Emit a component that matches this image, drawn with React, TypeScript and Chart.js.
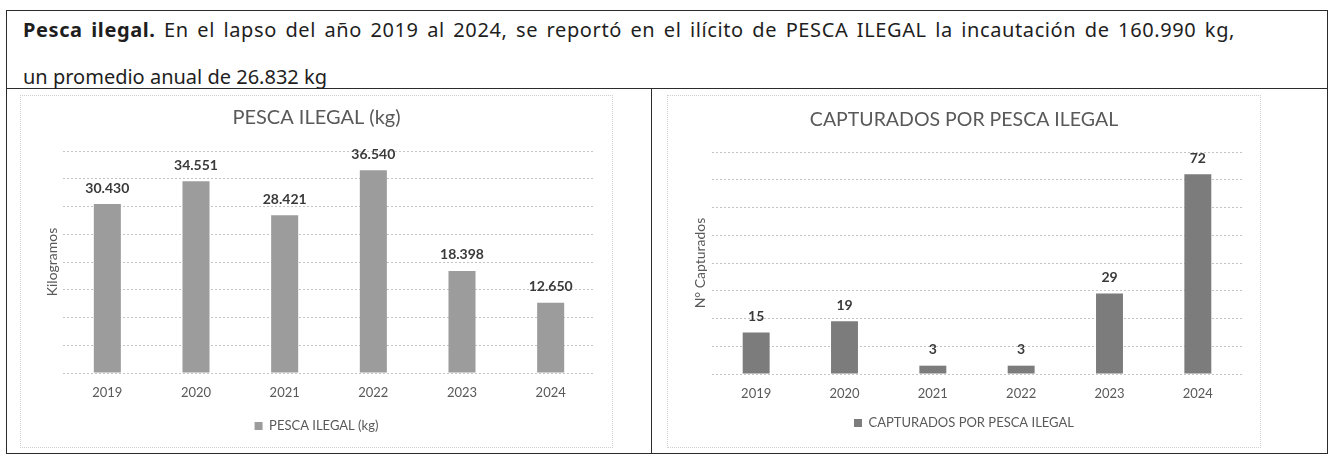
import React, { useEffect, useRef } from 'react';
import { Chart, registerables } from 'chart.js';

Chart.register(...registerables);

const years = ['2019', '2020', '2021', '2022', '2023', '2024'];
const pescaKg = [30430, 34551, 28421, 36540, 18398, 12650];
const capturados = [15, 19, 3, 3, 29, 72];
const kgAxis = [0, 40000, 5000];
const capAxis = [0, 80, 10];

const FONT = 'Lato, "Noto Sans", sans-serif';

function fmt(n: number): string {
  return String(n).replace(/\B(?=(\d{3})+(?!\d))/g, '.');
}

const valueLabels = {
  id: 'valueLabels',
  afterDatasetsDraw(chart: any) {
    const ctx = chart.ctx;
    const meta = chart.getDatasetMeta(0);
    const ds = chart.data.datasets[0];
    ctx.save();
    ctx.font = 'bold 14px ' + FONT;
    ctx.fillStyle = '#3a3a3a';
    ctx.textAlign = 'center';
    ctx.textBaseline = 'middle';
    meta.data.forEach((bar: any, i: number) => {
      ctx.fillText(fmt(ds.data[i] as number), bar.x, bar.y - 16);
    });
    ctx.restore();
  },
};

type Geo = {
  W: number;
  H: number;
  titleCY: number;
  titleSize: number;
  plotTop: number;
  plotBottom: number;
  plotLeft: number;
  plotRight: number;
  tickCY: number;
  legendCY: number;
  yTitleCX: number;
};

function buildConfig(
  title: string,
  data: number[],
  color: string,
  axis: number[],
  yTitle: string,
  g: Geo
): any {
  const titleFont = g.titleSize;
  const titleLH = titleFont * 1.2;
  const legendFont = 13;
  const legendPad = 10;
  const legendH = legendFont + legendPad + 10;
  const padBottom = g.H - g.legendCY - 16.5;
  const legendTop = g.H - padBottom - legendH;
  const xAxisH = legendTop - g.plotBottom;
  const tickFont = 13;
  const yTitleFont = 14;
  return {
    type: 'bar',
    data: {
      labels: years,
      datasets: [
        {
          label: title,
          data,
          backgroundColor: color,
          borderWidth: 0,
          barPercentage: 0.305,
          categoryPercentage: 1,
          yAxisID: 'y',
        },
      ],
    },
    options: {
      responsive: false,
      animation: false,
      devicePixelRatio: 1,
      layout: {
        padding: { left: 0, right: 0, top: 0, bottom: padBottom },
      },
      plugins: {
        title: {
          display: true,
          text: title,
          color: '#595959',
          font: { family: FONT, size: titleFont, weight: 'normal' },
          padding: {
            top: g.titleCY - titleLH / 2,
            bottom: g.plotTop - g.titleCY - titleLH / 2,
          },
        },
        legend: {
          display: true,
          position: 'bottom',
          labels: {
            color: '#595959',
            font: { family: FONT, size: legendFont },
            boxWidth: 8,
            boxHeight: 8,
            padding: legendPad,
          },
        },
        tooltip: { enabled: false },
      },
      scales: {
        x: {
          grid: { display: false, drawTicks: false },
          border: { display: false },
          ticks: {
            color: '#595959',
            font: { family: FONT, size: tickFont },
            padding: g.tickCY - g.plotBottom - (tickFont * 1.2) / 2,
          },
          afterFit: (s: any) => {
            s.height = xAxisH;
          },
        },
        y: {
          position: 'left',
          min: axis[0],
          max: axis[1],
          ticks: { display: false, stepSize: axis[2] },
          grid: { color: '#c4c4c4', lineWidth: 1, drawTicks: false },
          border: { display: false, dash: [2, 2] },
          title: {
            display: true,
            text: yTitle,
            color: '#595959',
            font: { family: FONT, size: yTitleFont },
            padding: { top: g.yTitleCX - (yTitleFont * 1.2) / 2, bottom: 0 },
          },
          afterFit: (s: any) => {
            s.width = g.plotLeft;
          },
        },
        yRight: {
          type: 'linear',
          position: 'right',
          display: true,
          ticks: { display: false },
          grid: { display: false, drawTicks: false },
          border: { display: false },
          afterFit: (s: any) => {
            s.width = g.W - g.plotRight;
          },
        },
      },
    },
    plugins: [valueLabels],
  };
}

function BarChart(props: {
  left: number;
  top: number;
  title: string;
  data: number[];
  color: string;
  axis: number[];
  yTitle: string;
  geo: Geo;
}) {
  const ref = useRef<HTMLCanvasElement | null>(null);
  useEffect(() => {
    if (!ref.current) return;
    const chart = new Chart(
      ref.current,
      buildConfig(props.title, props.data, props.color, props.axis, props.yTitle, props.geo)
    );
    return () => chart.destroy();
  }, []);
  const { W, H } = props.geo;
  return (
    <>
      <canvas
        ref={ref}
        width={W}
        height={H}
        style={{ position: 'absolute', left: props.left, top: props.top, width: W, height: H }}
      />
      <div
        style={{
          position: 'absolute',
          left: props.left,
          top: props.top,
          width: W,
          height: H,
          border: '1px dotted #cfcfcf',
          boxSizing: 'border-box',
          pointerEvents: 'none',
        }}
      />
    </>
  );
}

const leftGeo: Geo = {
  W: 593,
  H: 353,
  titleCY: 23,
  titleSize: 20,
  plotTop: 56,
  plotBottom: 278,
  plotLeft: 43,
  plotRight: 575,
  tickCY: 298,
  legendCY: 331,
  yTitleCX: 32,
};

const rightGeo: Geo = {
  W: 594,
  H: 353,
  titleCY: 25,
  titleSize: 19.5,
  plotTop: 57,
  plotBottom: 279,
  plotLeft: 45,
  plotRight: 575,
  tickCY: 299,
  legendCY: 328,
  yTitleCX: 33,
};

export default function App() {
  const line = '1.5px solid #2b2b2b';
  const headStyle: React.CSSProperties = {
    position: 'absolute',
    left: 23,
    width: 1212,
    fontFamily: '"Noto Sans", Lato, sans-serif',
    fontSize: 20,
    lineHeight: '30px',
    color: '#1e1e1e',
  };
  return (
    <div
      style={{
        position: 'absolute',
        left: 0,
        top: 0,
        width: 1335,
        height: 458,
        background: '#ffffff',
        fontFamily: FONT,
        overflow: 'hidden',
      }}
    >
      <div
        style={{
          position: 'absolute',
          left: 6,
          top: 10,
          width: 1322,
          height: 444,
          border: line,
          boxSizing: 'border-box',
        }}
      />
      <div style={{ position: 'absolute', left: 6, top: 88, width: 1322, height: 0, borderTop: line }} />
      <div style={{ position: 'absolute', left: 651, top: 88, width: 0, height: 366, borderLeft: line }} />
      <div
        style={{
          ...headStyle,
          top: 15,
          letterSpacing: '0.6px',
          textAlign: 'justify',
          textAlignLast: 'justify',
        }}
      >
        <b>Pesca ilegal.</b> En el lapso del año 2019 al 2024, se reportó en el ilícito de PESCA ILEGAL la
        incautación de 160.990 kg,
      </div>
      <div style={{ ...headStyle, top: 62, whiteSpace: 'nowrap' }}>un promedio anual de 26.832 kg</div>
      <BarChart
        left={20}
        top={95}
        title="PESCA ILEGAL (kg)"
        data={pescaKg}
        color="#9c9c9c"
        axis={kgAxis}
        yTitle="Kilogramos"
        geo={leftGeo}
      />
      <BarChart
        left={667}
        top={95}
        title="CAPTURADOS POR PESCA ILEGAL"
        data={capturados}
        color="#7c7c7c"
        axis={capAxis}
        yTitle="N° Capturados"
        geo={rightGeo}
      />
    </div>
  );
}
